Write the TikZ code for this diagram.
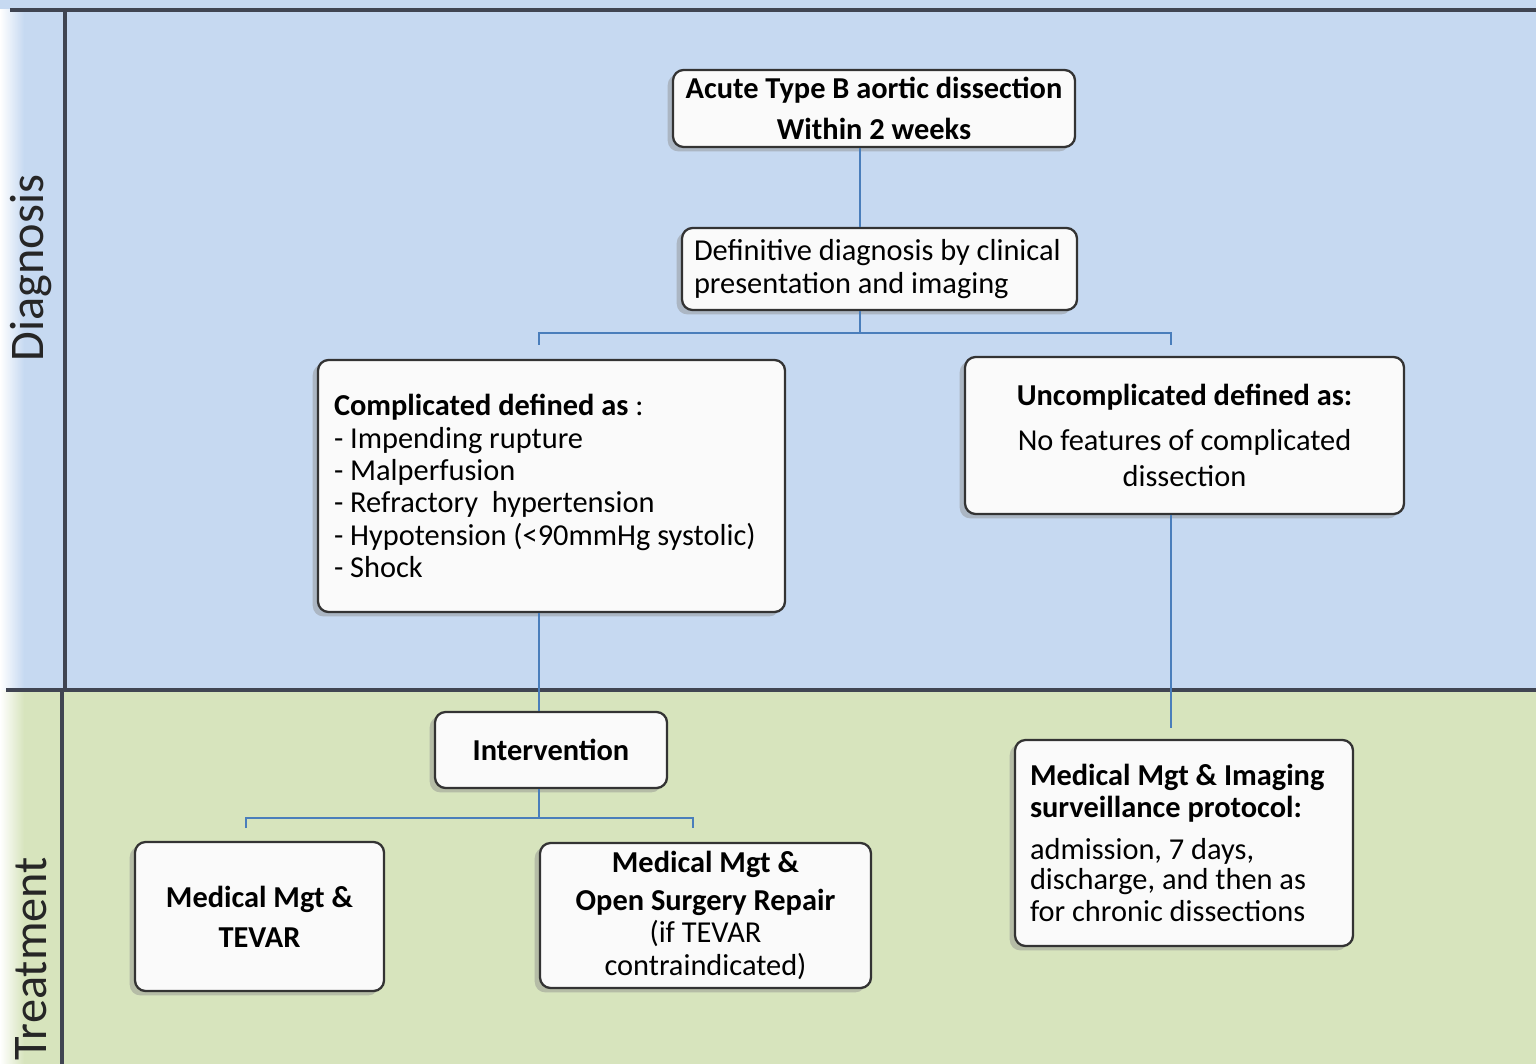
\documentclass[tikz,border=0pt]{standalone}
\usepackage{fontspec}
\setmainfont{Carlito}
\usetikzlibrary{shadows}
\definecolor{laneblue}{HTML}{C6D9F1}
\definecolor{lanegreen}{HTML}{D7E4BD}
\definecolor{connblue}{HTML}{4A7EBB}
\definecolor{boxline}{HTML}{333333}
\definecolor{boxfill}{HTML}{FAFAFA}
\definecolor{laneline}{HTML}{404552}
\tikzset{
  box/.style={draw=boxline, line width=1.3pt, fill=boxfill, rounded corners=6pt,
    general shadow={fill=black!45, opacity=.45, shadow xshift=-3pt, shadow yshift=-2.5pt},
    font=\fontsize{17.3}{18.4}\selectfont, inner sep=0pt},
  conn/.style={draw=connblue, line width=1.1pt},
  lanelabel/.style={rotate=90, font=\fontsize{27.5}{30}\selectfont, text=black!85},
  laneborder/.style={draw=laneline, line width=1.8pt}
}
\begin{document}
\begin{tikzpicture}[x=0.02cm,y=-0.02cm]
\useasboundingbox (0,0) rectangle (1536,1064);
% lanes
\fill[laneblue] (0,0) rectangle (1536,690);
\fill[lanegreen] (0,690) rectangle (1536,1064);
\shade[left color=white, right color=laneblue] (0,10) rectangle (24,690);
\shade[left color=white, right color=lanegreen] (0,690) rectangle (24,1064);
\draw[laneborder] (10,10) -- (1536,10);
\draw[laneborder] (6,690) -- (1536,690);
\draw[laneborder] (65,10) -- (65,690);
\draw[laneborder] (62,690) -- (62,1064);
\node[lanelabel] (diag) at (31,268) {Diagnosis};
\node[lanelabel] (treat) at (31,959) {Treatment};
% boxes
\node[box, minimum width=402*0.02cm, minimum height=77*0.02cm, align=center,
  font=\fontsize{17.3}{23.5}\selectfont\bfseries] (A) at (874,108.5)
  {Acute Type B aortic dissection\\Within 2 weeks};
\node[box, minimum width=395*0.02cm, minimum height=82*0.02cm, text width=371*0.02cm, align=flush left] (B) at (879.5,269)
  {Definitive diagnosis by clinical\\presentation and imaging};
\node[box, minimum width=467*0.02cm, minimum height=252*0.02cm, text width=435*0.02cm, align=flush left] (C) at (551.5,486)
  {\textbf{Complicated defined as} :\\
   - Impending rupture\\
   - Malperfusion\\
   - Refractory\ \ hypertension\\
   - Hypotension (<90mmHg systolic)\\
   - Shock};
\node[box, minimum width=439*0.02cm, minimum height=157*0.02cm, align=center] (D) at (1184.5,435.5)
  {\textbf{Uncomplicated defined as:}\\[7pt]
   No features of complicated\\[2pt]
   dissection};
\node[box, minimum width=232*0.02cm, minimum height=76*0.02cm, align=center, font=\fontsize{17.3}{18.4}\selectfont\bfseries] (E) at (551,750)
  {Intervention};
\node[box, minimum width=249*0.02cm, minimum height=149*0.02cm, align=center, font=\fontsize{17.3}{22.7}\selectfont\bfseries] (F) at (259.5,916.5)
  {Medical Mgt \&\\TEVAR};
\node[box, minimum width=331*0.02cm, minimum height=145*0.02cm, align=center] (G) at (705.5,915.5)
  {\textbf{Medical Mgt \&}\\[3pt]
   \textbf{Open Surgery Repair}\\
   (if TEVAR\\
   contraindicated)};
\node[box, minimum width=338*0.02cm, minimum height=206*0.02cm, text width=308*0.02cm, align=flush left] (H) at (1184,843)
  {\textbf{Medical Mgt \& Imaging}\\
   \textbf{surveillance protocol:}\\[7pt]
   {\fontsize{17.3}{16.8}\selectfont admission, 7 days,\\
   discharge, and then as\\
   for chronic dissections}};
% connectors
\coordinate (t1) at (860,0);
\coordinate (bj) at (860,333);
\coordinate (cs) at (539,345);
\coordinate (ds) at (1171,345);
\coordinate (ej) at (539,818);
\coordinate (fs) at (246,828);
\coordinate (gs) at (693,828);
\coordinate (hs) at (1171,728);
\draw[conn] (A.south -| t1) -- (B.north -| t1);
\draw[conn] (B.south -| bj) -- (bj);
\draw[conn] (cs) |- (bj) -| (ds);
\draw[conn] (C.south -| cs) -- (E.north -| cs);
\draw[conn] (E.south -| ej) -- (ej);
\draw[conn] (fs) |- (ej) -| (gs);
\draw[conn] (D.south -| hs) -- (hs);
\end{tikzpicture}
\end{document}
